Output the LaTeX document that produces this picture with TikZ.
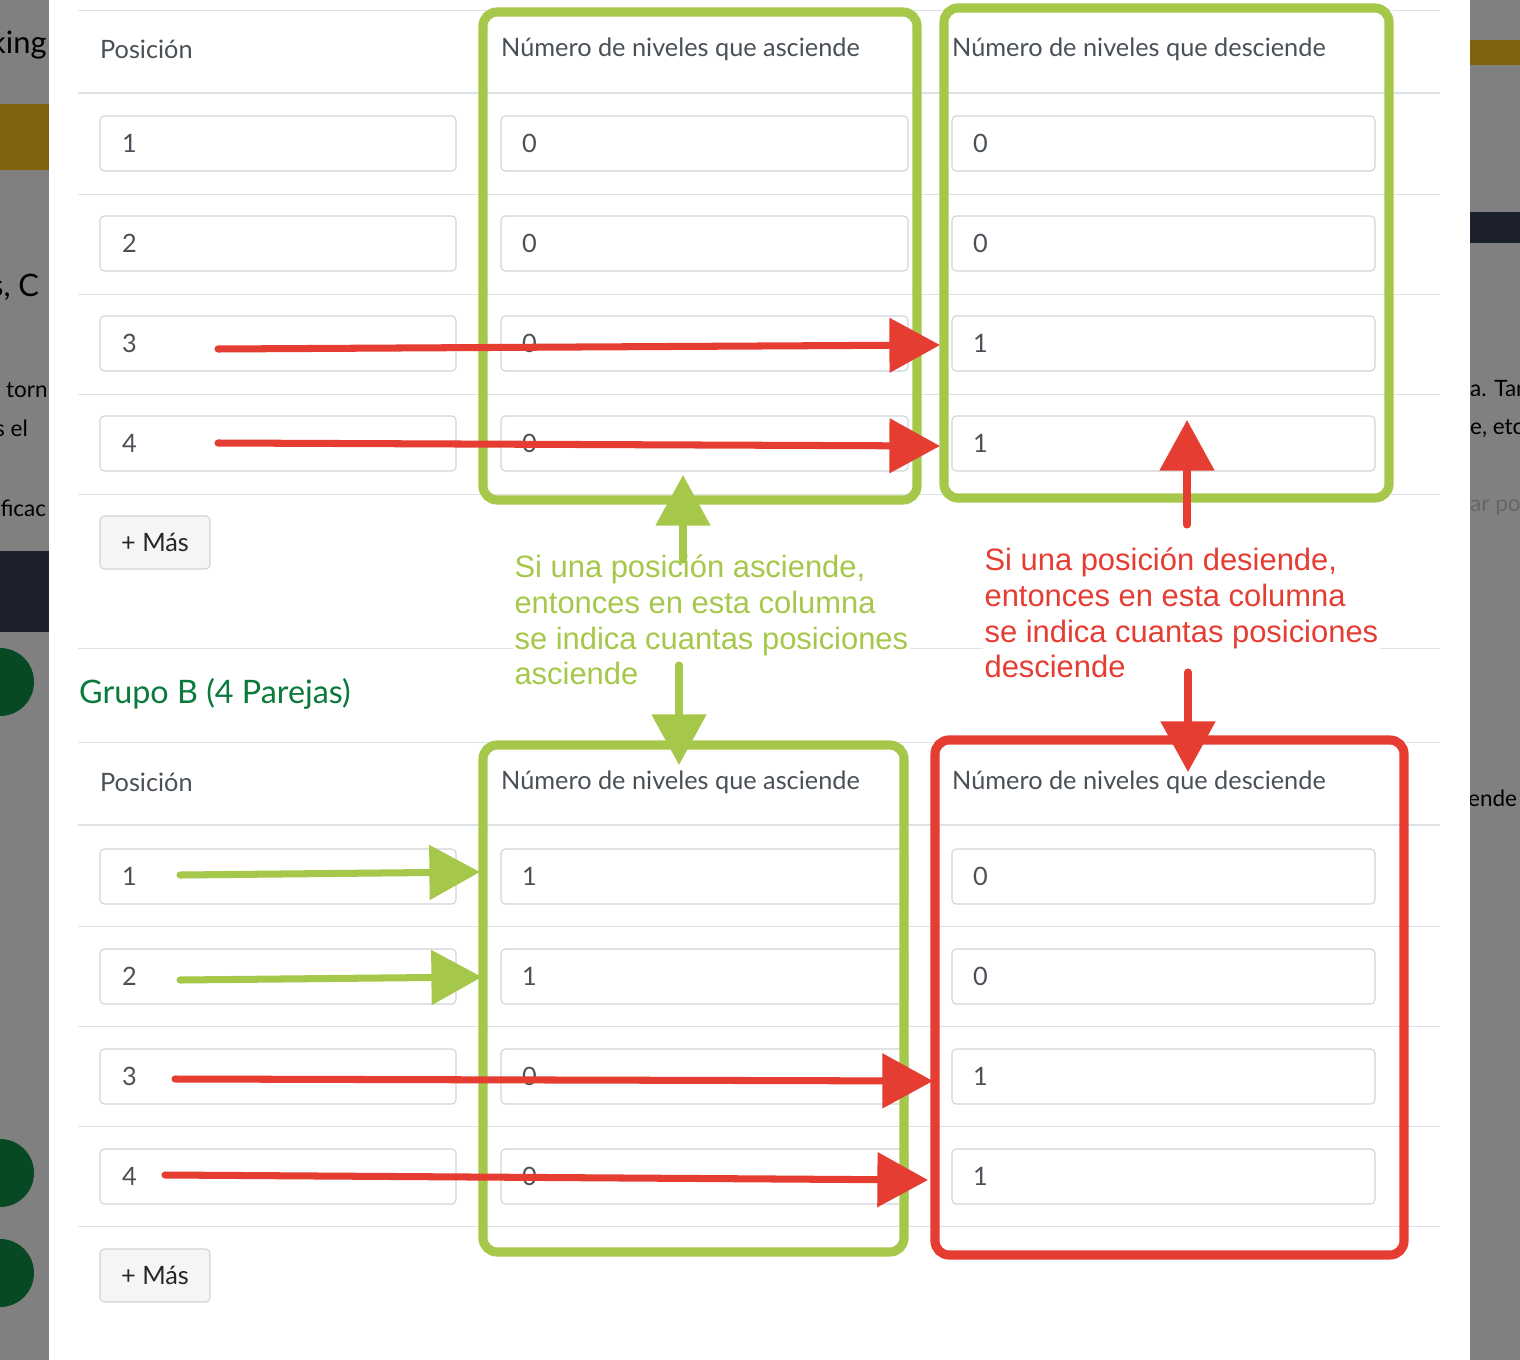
\documentclass[tikz,border=0pt]{standalone}
\usepackage{fontspec}
\setmainfont{Lato}
\newfontfamily\notefont{Liberation Sans}
\usetikzlibrary{arrows.meta}
\definecolor{hl green}{HTML}{A6C84A}
\definecolor{hl red}{HTML}{E53D32}
\definecolor{ui text}{HTML}{495057}
\definecolor{ui border}{HTML}{CED4DA}
\definecolor{ui rule}{HTML}{DEE2E6}
\definecolor{group green}{HTML}{0A7A3A}
\definecolor{page gray}{HTML}{808080}
\definecolor{page gold}{HTML}{80620F}
\definecolor{page dark}{HTML}{1C202C}

\begin{document}
\begin{tikzpicture}
            [x=0.05cm, y=-0.05cm,
             uitext/.style={anchor=west, inner sep=0pt, text=ui text, font=\fontsize{36}{42}\selectfont},
             inbox/.style={draw=ui border, line width=1.5pt, rounded corners=6pt},
             rowline/.style={draw=ui rule, line width=1.2pt},
             headline/.style={draw=ui rule, line width=3pt},
             frame/.style={line width=13pt, rounded corners=20pt},
             pointer/.style={line width=10pt, line cap=round, -{Triangle[length=72pt, width=76pt]}},
             note/.style={anchor=north west, inner sep=2pt, fill=white, align=left,
                          font=\notefont\fontsize{44}{51}\selectfont}]
            \useasboundingbox (0,0) rectangle (1520,1360);
            % page behind the dialog
            \fill[page gray] (0,0) rectangle (1520,1360);
            \fill[page gold] (0,104) rectangle (49,170);
            \fill[page gold] (1470,40) rectangle (1520,65);
            \fill[page dark] (0,551) rectangle (49,632);
            \fill[page dark] (1470,212) rectangle (1520,243);
            \fill[group green!60!black] (0,682) circle (34);
            \fill[group green!60!black] (0,1173) circle (34);
            \fill[group green!60!black] (0,1273) circle (34);
            \begin{scope}
                \clip (0,0) rectangle (49,1360);
                \node[anchor=west, inner sep=0pt, font=\fontsize{44}{50}\selectfont] (pgk) at (-10,45) {king};
                \node[anchor=west, inner sep=0pt, font=\fontsize{44}{50}\selectfont] (pgc) at (-10,287) {s, C};
                \node[anchor=west, inner sep=0pt, font=\fontsize{32}{38}\selectfont] (pgt) at (-5,389) {l torn};
                \node[anchor=west, inner sep=0pt, font=\fontsize{32}{38}\selectfont] (pge) at (-5,428) {s el};
                \node[anchor=west, inner sep=0pt, font=\fontsize{32}{38}\selectfont] (pgf) at (-5,508) {ificac};
            \end{scope}
            \begin{scope}
                \clip (1470,0) rectangle (1520,1360);
                \node[anchor=west, inner sep=0pt, font=\fontsize{32}{38}\selectfont] (pga) at (1470,389) {a. Tan};
                \node[anchor=west, inner sep=0pt, font=\fontsize{32}{38}\selectfont] (pgb) at (1470,428) {e, etc};
                \node[anchor=west, inner sep=0pt, text=black!60, font=\fontsize{32}{38}\selectfont] (pgp) at (1470,508) {ar po};
                \node[anchor=west, inner sep=0pt, font=\fontsize{32}{38}\selectfont] (pgd) at (1468,798) {ende};
            \end{scope}
            % dialog
            \fill[white] (49,0) rectangle (1470,1360);
            \foreach \y in {10,194,294,394,494,648,926,1026,1126,1226}
                \draw[rowline] (78,\y) -- (1440,\y);
            \foreach \y in {93,825}
                \draw[headline] (78,\y) -- (1440,\y);
            \draw[rowline] (78,742) -- (1440,742);

            % table headers
            \node[uitext] (hpa) at (100,49) {Posición};
            \node[uitext] (hua) at (501,49) {Número de niveles que asciende};
            \node[uitext] (hda) at (952,49) {Número de niveles que desciende};
            \node[uitext] (hpb) at (100,782) {Posición};
            \node[uitext] (hub) at (501,782) {Número de niveles que asciende};
            \node[uitext] (hdb) at (952,782) {Número de niveles que desciende};
            \node[anchor=west, inner sep=0pt, text=group green, font=\fontsize{46}{52}\selectfont] (grupo) at (79,694) {Grupo B (4 Parejas)};

            % input rows of both groups
            \foreach \pos/\up/\down [count=\i] in {1/0/0,2/0/0,3/0/1,4/0/1} {
                \pgfmathsetmacro\top{16+100*\i}
                \draw[inbox] (100,\top) rectangle (456,\top+55);
                \draw[inbox] (501,\top) rectangle (908,\top+55);
                \draw[inbox] (952,\top) rectangle (1375,\top+55);
                \node[uitext] (pa\i) at (122,\top+27) {\pos};
                \node[uitext] (ua\i) at (522,\top+27) {\up};
                \node[uitext] (da\i) at (973,\top+27) {\down};
            }
            \foreach \pos/\up/\down [count=\i] in {1/1/0,2/1/0,3/0/1,4/0/1} {
                \pgfmathsetmacro\top{749+100*\i}
                \draw[inbox] (100,\top) rectangle (456,\top+55);
                \draw[inbox] (501,\top) rectangle (908,\top+55);
                \draw[inbox] (952,\top) rectangle (1375,\top+55);
                \node[uitext] (pb\i) at (122,\top+27) {\pos};
                \node[uitext] (ub\i) at (522,\top+27) {\up};
                \node[uitext] (db\i) at (973,\top+27) {\down};
            }
            \draw[inbox, fill=black!4] (100,516) rectangle (210,569);
            \node[uitext, anchor=center, text=black!85] (masa) at (155,542) {+ Más};
            \draw[inbox, fill=black!4] (100,1249) rectangle (210,1302);
            \node[uitext, anchor=center, text=black!85] (masb) at (155,1275) {+ Más};

            % highlight frames
            \draw[frame, hl green] (483,12) rectangle (917,500);
            \draw[frame, hl green] (944,8) rectangle (1389,498);
            \draw[frame, hl green] (483,745) rectangle (904,1252);
            \draw[frame, hl red] (935,740) rectangle (1404,1255);

            % notes
            \node[note, text=hl green] (nup) at (513,553)
                {Si una posición asciende,\\entonces en esta columna\\se indica cuantas posiciones\\asciende};
            \node[note, text=hl red] (ndown) at (983,546)
                {Si una posición desiende,\\entonces en esta columna\\se indica cuantas posiciones\\desciende};

            % arrow ends
            \coordinate (ra3) at (218,349);  \coordinate (ta3) at (940,345);
            \coordinate (ra4) at (218,443);  \coordinate (ta4) at (940,446);
            \coordinate (gb1) at (180,875);  \coordinate (tb1) at (480,872);
            \coordinate (gb2) at (180,980);  \coordinate (tb2) at (482,977);
            \coordinate (rb3) at (175,1079); \coordinate (tb3) at (933,1081);
            \coordinate (rb4) at (165,1175); \coordinate (tb4) at (928,1180);
            \coordinate (gus) at (683,560);  \coordinate (gut) at (683,475);
            \coordinate (gds) at (679,665);  \coordinate (gdt) at (679,765);
            \coordinate (rus) at (1187,525); \coordinate (rut) at (1187,420);
            \coordinate (rds) at (1188,672); \coordinate (rdt) at (1188,772);

            \draw[pointer, hl red] (ra3) -- (ta3);
            \draw[pointer, hl red] (ra4) -- (ta4);
            \draw[pointer, hl green] (gb1) -- (tb1);
            \draw[pointer, hl green] (gb2) -- (tb2);
            \draw[pointer, hl red] (rb3) -- (tb3);
            \draw[pointer, hl red] (rb4) -- (tb4);
            \draw[pointer, hl green] (gus) -- (gut);
            \draw[pointer, hl green] (gds) -- (gdt);
            \draw[pointer, hl red] (rus) -- (rut);
            \draw[pointer, hl red] (rds) -- (rdt);
        \end{tikzpicture}
\end{document}
